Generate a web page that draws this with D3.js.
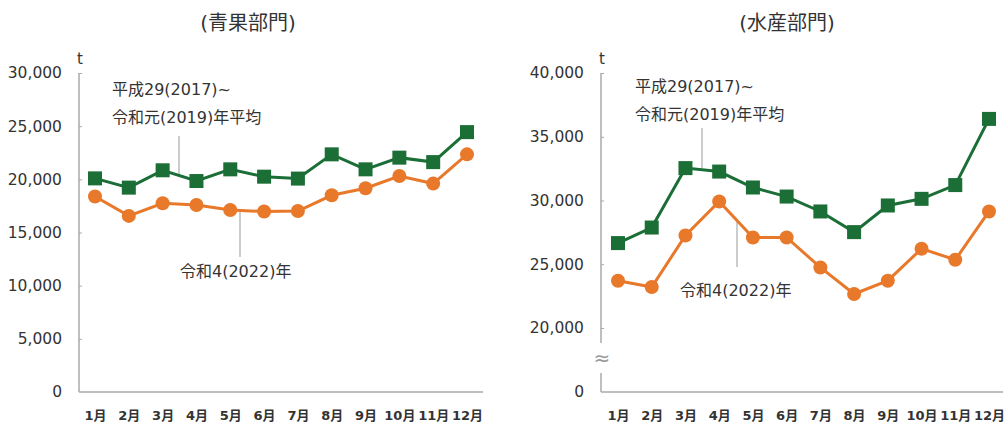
<!DOCTYPE html>
<html>
<head>
<meta charset="utf-8">
<script src="https://cdn.jsdelivr.net/npm/d3@7"></script>
<style>
	body {margin: 0; background: #fff;}
	svg text {font-family: "DejaVu Sans", "Noto Sans CJK JP", sans-serif; fill: #333;}
</style>
</head>
<body>
<div id="chart"></div>
<script>
//monthly volume, two departments

var months = ["1月","2月","3月","4月","5月","6月","7月","8月","9月","10月","11月","12月"];

// 青果部門
var vegAvg = [20090, 19220, 20850, 19840, 20940, 20250, 20070, 22350, 20940, 22040, 21620, 24440];
var veg2022 = [18380, 16560, 17750, 17590, 17120, 16970, 17020, 18500, 19160, 20310, 19600, 22350];
var vegTicks = [0, 5000, 10000, 15000, 20000, 25000, 30000];

// 水産部門
var fishAvg = [26660, 27880, 32540, 32270, 31020, 30310, 29140, 27520, 29610, 30130, 31210, 36400];
var fish2022 = [23710, 23210, 27260, 29920, 27100, 27100, 24750, 22670, 23710, 26220, 25350, 29140];
var fishTicks = [0, 20000, 25000, 30000, 35000, 40000];

var avgLabel = ["平成29(2017)~", "令和元(2019)年平均"];
var curLabel = "令和4(2022)年";

var green = "#1b6e36", orange = "#e8782a", axisCol = "#aaa";

var svg = d3.select("#chart").append("svg")
	.attr("width", 1006)
	.attr("height", 428);

function panel(o) {
	var g = svg.append("g");
	var x = d3.scalePoint().domain(months).range(o.xr);
	var y = d3.scaleLinear().domain(o.yd).range(o.yr);

	g.append("text")
	.attr("x", o.titleX).attr("y", 30)
	.attr("text-anchor", "middle")
	.style("font-size", "20px")
	.text(o.title);

	g.append("text")
	.attr("x", o.ax + 1).attr("y", 64)
	.attr("text-anchor", "middle")
	.style("font-size", "15px")
	.text("t");

	// y axis
	var ya = g.append("g")
	.attr("transform", "translate(" + o.ax + ",0)")
	.call(d3.axisLeft(y).tickValues(o.ticks).tickFormat(d3.format(","))
		.tickSizeInner(-3).tickSizeOuter(0).tickPadding(17));
	ya.select(".domain").remove();
	ya.selectAll(".tick line").attr("stroke", axisCol)
	.filter(function(d){return d == 0}).remove();
	ya.selectAll(".tick text").style("font-size", "15.5px").attr("fill", "#333");

	if (o.brk) {
		g.append("line").attr("x1", o.ax).attr("x2", o.ax)
		.attr("y1", y.range()[2]).attr("y2", o.brk[0]).attr("stroke", axisCol).attr("stroke-width", 1.5);
		g.append("line").attr("x1", o.ax).attr("x2", o.ax)
		.attr("y1", o.brk[1]).attr("y2", y(0)).attr("stroke", axisCol).attr("stroke-width", 1.5);
		g.append("text")
		.attr("x", o.ax + 1).attr("y", (o.brk[0] + o.brk[1]) / 2 + 7)
		.attr("text-anchor", "middle")
		.style("font-size", "20px").style("fill", "#999")
		.text("≈");
	} else {
		g.append("line").attr("x1", o.ax).attr("x2", o.ax)
		.attr("y1", y.range()[1]).attr("y2", y(0)).attr("stroke", axisCol).attr("stroke-width", 1.5);
	}

	// x axis
	g.append("line").attr("x1", o.ax).attr("x2", o.axEnd)
	.attr("y1", y(0)).attr("y2", y(0)).attr("stroke", axisCol).attr("stroke-width", 1.5);

	var xa = g.append("g")
	.attr("transform", "translate(0," + y(0) + ")")
	.call(d3.axisBottom(x).tickSize(0).tickPadding(19));
	xa.select(".domain").remove();
	xa.selectAll(".tick text").style("font-size", "13px").style("font-weight", "bold").attr("fill", "#333");

	// leaders + labels
	var la = o.avgNote, lc = o.curNote;
	g.append("line").attr("x1", la.x).attr("x2", la.x).attr("y1", la.y0).attr("y2", la.y1)
	.attr("stroke", "#999").attr("stroke-width", 1);
	g.append("line").attr("x1", lc.x).attr("x2", lc.x).attr("y1", lc.y0).attr("y2", lc.y1)
	.attr("stroke", "#999").attr("stroke-width", 1);
	g.selectAll(".avgl").data(avgLabel).enter().append("text")
	.attr("x", la.tx).attr("y", function(d, i){return la.ty + i * 28})
	.style("font-size", "16px")
	.text(function(d){return d});
	g.append("text")
	.attr("x", lc.tx).attr("y", lc.ty)
	.style("font-size", "16px")
	.text(curLabel);

	var line = d3.line().x(function(d, i){return x(months[i])}).y(function(d){return y(d)});

	g.append("path").datum(o.cur)
	.attr("d", line).attr("fill", "none").attr("stroke", orange).attr("stroke-width", 3);
	g.selectAll(".dot").data(o.cur).enter().append("circle")
	.attr("cx", function(d, i){return x(months[i])})
	.attr("cy", function(d){return y(d)})
	.attr("r", 7)
	.attr("fill", orange);

	g.append("path").datum(o.avg)
	.attr("d", line).attr("fill", "none").attr("stroke", green).attr("stroke-width", 3);
	g.selectAll(".sq").data(o.avg).enter().append("rect")
	.attr("x", function(d, i){return x(months[i]) - 7})
	.attr("y", function(d){return y(d) - 7})
	.attr("width", 14).attr("height", 14)
	.attr("fill", green);
}

panel({
	title: "(青果部門)", titleX: 248,
	xr: [95, 467], ax: 79, axEnd: 483,
	yd: [0, 30000], yr: [392, 73], ticks: vegTicks,
	avg: vegAvg, cur: veg2022,
	avgNote: {x: 179, y0: 136, y1: 175, tx: 112, ty: 95},
	curNote: {x: 240, y0: 211, y1: 257, tx: 180, ty: 277}
});

panel({
	title: "(水産部門)", titleX: 787,
	xr: [618, 989], ax: 601, axEnd: 1003,
	yd: [0, 20000, 40000], yr: [392, 328, 73], ticks: fishTicks,
	brk: [343, 373],
	avg: fishAvg, cur: fish2022,
	avgNote: {x: 702, y0: 128, y1: 168, tx: 635, ty: 92},
	curNote: {x: 737, y0: 222, y1: 267, tx: 680, ty: 296}
});
</script>
</body>
</html>
